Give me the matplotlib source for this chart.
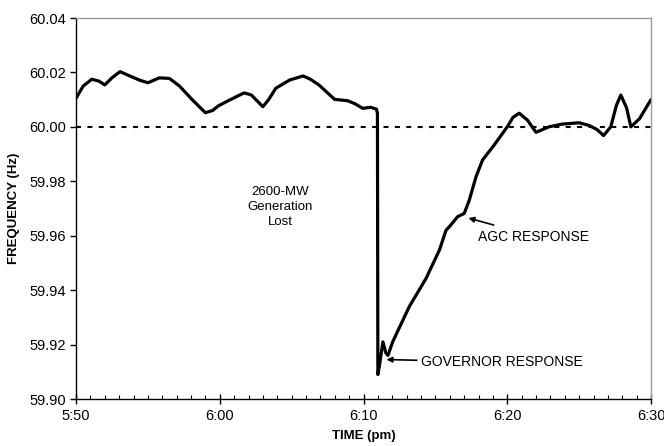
import matplotlib
matplotlib.use("Agg")
import matplotlib.pyplot as plt
from matplotlib.ticker import MultipleLocator, FixedLocator

plt.rcParams['font.family'] = ['Liberation Sans', 'DejaVu Sans']
plt.rcParams['lines.scale_dashes'] = False

# minutes after 5:50 pm
time_min = [0.0, 0.5, 1.1, 1.6, 2.0, 2.5, 3.06, 3.7, 4.4, 5.0, 5.8, 6.5, 7.2, 8.1,
            9.0, 9.5, 9.9, 10.7, 11.7, 12.2, 13.0, 13.4, 13.9, 14.86, 15.8, 16.3, 16.9,
            17.99, 18.9, 19.4, 19.95, 20.5, 20.9, 20.97, 21.00, 21.10, 21.35, 21.55,
            21.70, 22.03, 23.19, 24.35, 25.28, 25.74, 25.97, 26.55, 27.01, 27.36,
            27.83, 28.28, 29.1, 30.0, 30.4, 30.83, 31.4, 32.0, 32.9, 33.8, 35.0,
            35.7, 36.25, 36.7, 37.2, 37.6, 37.9, 38.3, 38.6, 39.2, 40.0]
freq_hz = [60.0105, 60.0150, 60.0175, 60.0168, 60.0154, 60.0180, 60.0203, 60.0188,
           60.0172, 60.0162, 60.0180, 60.0178, 60.0150, 60.0099, 60.0052, 60.0060,
           60.0077, 60.0099, 60.0125, 60.0117, 60.0074, 60.0100, 60.0142, 60.0172,
           60.0187, 60.0175, 60.0154, 60.0101, 60.0096, 60.0085, 60.0068, 60.0072,
           60.0065, 60.0050, 59.9090, 59.9120, 59.9210, 59.9170, 59.9160, 59.9210,
           59.9340, 59.9443, 59.9547, 59.9620, 59.9633, 59.9670, 59.9682, 59.9731,
           59.9817, 59.9878, 59.9934, 60.0000, 60.0035, 60.0050, 60.0025, 59.9980,
           60.0000, 60.0010, 60.0015, 60.0005, 59.9990, 59.9968, 60.0000, 60.0080,
           60.0117, 60.0070, 60.0000, 60.0030, 60.0100]

nominal_hz = 60.00
x_ticks = [0, 10, 20, 30, 40]
x_labels = ['5:50', '6:00', '6:10', '6:20', '6:30']
y_ticks = [59.90, 59.92, 59.94, 59.96, 59.98, 60.00, 60.02, 60.04]

fig = plt.figure(figsize=(6.64, 4.46), dpi=100)
ax = fig.add_axes([76/664, 1-399/446, (651-76)/664, (399-18)/446])

ax.axhline(nominal_hz, color='black', lw=1.5, dashes=(3.6, 4.6))
ax.plot(time_min, freq_hz, color='black', lw=2.3, solid_joinstyle='round',
        solid_capstyle='round')

ax.set_xlim(0, 40)
ax.set_ylim(59.90, 60.04)
ax.xaxis.set_major_locator(FixedLocator(x_ticks))
ax.set_xticklabels(x_labels)
ax.xaxis.set_minor_locator(MultipleLocator(1))
ax.set_yticks(y_ticks)
ax.set_yticklabels([f'{v:.2f}' for v in y_ticks])

for s in ['left', 'bottom']:
    ax.spines[s].set_color('black')
    ax.spines[s].set_linewidth(1.0)
for s in ['top', 'right']:
    ax.spines[s].set_color('#9a9a9a')
    ax.spines[s].set_linewidth(1.0)

ax.tick_params(axis='y', which='major', direction='out', length=4, width=1,
               labelsize=10.5, pad=3)
ax.tick_params(axis='x', which='major', direction='inout', length=7, width=1,
               labelsize=10.5, pad=4)
ax.tick_params(axis='x', which='minor', direction='in', length=3, width=0.8)

ax.set_xlabel('TIME (pm)', fontsize=9.5, fontweight='bold', labelpad=5)
ax.set_ylabel('FREQUENCY (Hz)', fontsize=9.5, fontweight='bold', labelpad=7)

ax.text(14.2, 59.9705, '2600-MW\nGeneration\nLost', ha='center', va='center',
        fontsize=9.5, linespacing=1.3)

ax.annotate('GOVERNOR RESPONSE', xy=(21.6, 59.9145), xytext=(24.0, 59.9135),
            ha='left', va='center', fontsize=10,
            arrowprops=dict(arrowstyle='-|>', color='black', lw=1.2,
                            mutation_scale=8, shrinkA=1, shrinkB=0))
ax.annotate('AGC RESPONSE', xy=(27.3, 59.9665), xytext=(28.0, 59.9595),
            ha='left', va='center', fontsize=10,
            arrowprops=dict(arrowstyle='-|>', color='black', lw=1.2,
                            mutation_scale=8, shrinkA=6, shrinkB=0,
                            relpos=(0.3, 1.0)))

fig.savefig('out.png', dpi=100)
